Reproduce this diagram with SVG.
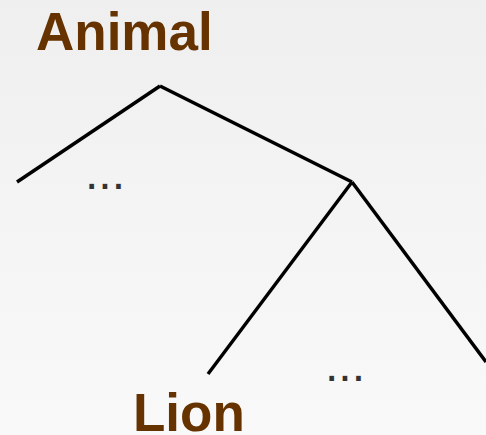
<svg xmlns="http://www.w3.org/2000/svg" width="486" height="435" viewBox="0 0 486 435">
<defs>
<linearGradient id="bg" x1="0" y1="0" x2="0" y2="1">
<stop offset="0" stop-color="#efefef"/>
<stop offset="1" stop-color="#f9f9f9"/>
</linearGradient>
<style>
.label{font-family:"Liberation Sans",Arial,sans-serif;font-weight:bold;font-size:53px;fill:#663300}
.dots{font-family:"Liberation Sans",Arial,sans-serif;font-size:48px;fill:#333333}
.edge{stroke:#000;stroke-width:3.5;fill:none;stroke-linecap:butt}
</style>
</defs>
<rect width="486" height="435" fill="url(#bg)"/>
<g id="connectors">
<line class="edge" x1="160" y1="86" x2="17" y2="182"/>
<line class="edge" x1="160" y1="86" x2="352" y2="182"/>
<line class="edge" x1="352" y1="182" x2="208" y2="374"/>
<line class="edge" x1="352" y1="182" x2="486" y2="362"/>
</g>
<g id="animal"><text class="label" x="36" y="50">Animal</text></g>
<g id="lion"><text class="label" x="133" y="431">Lion</text></g>
<g id="dots1"><text class="dots" x="85" y="189">...</text></g>
<g id="dots2"><text class="dots" x="325" y="381">...</text></g>
</svg>
